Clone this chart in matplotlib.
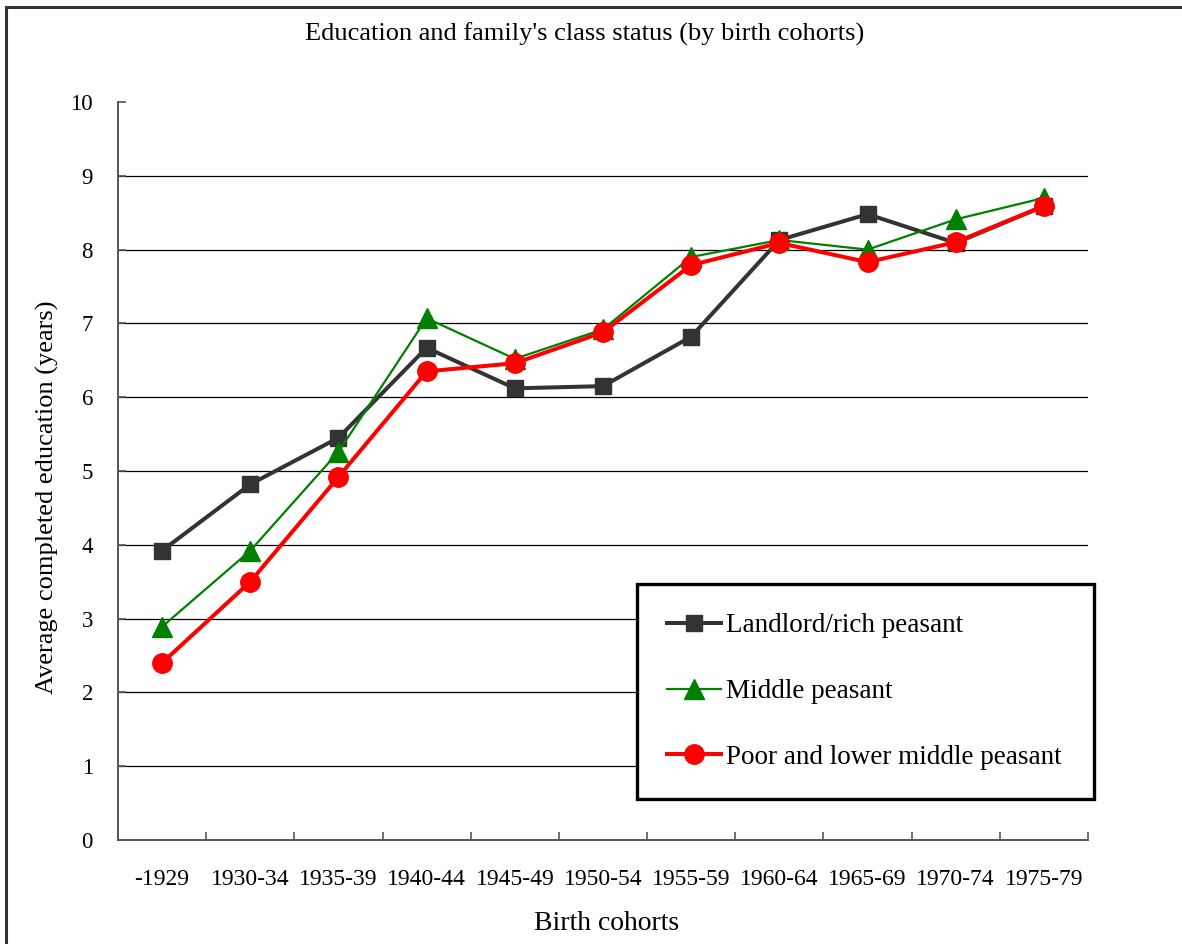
import matplotlib
matplotlib.use("Agg")
import matplotlib.pyplot as plt
from matplotlib.patches import Rectangle
import numpy as np

categories = ["-1929", "1930-34", "1935-39", "1940-44", "1945-49", "1950-54",
              "1955-59", "1960-64", "1965-69", "1970-74", "1975-79"]
landlord = [3.92, 4.82, 5.45, 6.67, 6.12, 6.15, 6.82, 8.13, 8.48, 8.09, 8.59]
middle = [2.89, 3.92, 5.26, 7.07, 6.52, 6.92, 7.90, 8.13, 8.00, 8.41, 8.70]
poor = [2.40, 3.50, 4.92, 6.35, 6.46, 6.88, 7.79, 8.09, 7.83, 8.10, 8.59]
series_names = ["Landlord/rich peasant", "Middle peasant", "Poor and lower middle peasant"]
y_ticks = list(range(0, 11))

plt.rcParams['font.family'] = ['Liberation Serif', 'DejaVu Serif']

fig = plt.figure(figsize=(11.82, 9.44), dpi=100)
ax = fig.add_axes([118/1182, 1-840/944, (1088-118)/1182, (840-102)/944])

x = np.arange(len(categories))
ax.plot(x, landlord, color='#333333', lw=2.9, marker='s', ms=12, label=series_names[0], zorder=3)
ax.plot(x, middle, color='#008000', lw=1.6, marker='^', ms=14, label=series_names[1], zorder=4)
ax.plot(x, poor, color='#ff0000', lw=2.9, marker='o', ms=14, label=series_names[2], zorder=5)

ax.set_xlim(-0.5, len(categories) - 0.5)
ax.set_ylim(0, 10)
ax.set_yticks(y_ticks)
ax.set_yticklabels([str(v) for v in y_ticks], fontsize=16.5)
for v in y_ticks[1:-1]:
    ax.axhline(v, color='black', lw=0.9, zorder=1)

ax.set_xticks(x)
ax.set_xticklabels(categories, fontsize=17)
ax.set_xticks(np.arange(-0.5, len(categories)), minor=True)
ax.tick_params(axis='x', which='major', length=0, pad=21)
ax.tick_params(axis='x', which='minor', direction='in', length=6, color='#555555', width=1.2)
ax.tick_params(axis='y', direction='in', length=6, color='#555555', width=1.2, pad=18)

for s in ['top', 'right']:
    ax.spines[s].set_visible(False)
for s in ['left', 'bottom']:
    ax.spines[s].set_color('#555555')
    ax.spines[s].set_linewidth(1.4)

fig.text(585/1182, 1-34/944, "Education and family's class status (by birth cohorts)",
         ha='center', va='center', fontsize=19)
fig.text(607/1182, 1-924/944, "Birth cohorts", ha='center', va='center', fontsize=20)
fig.text(47/1182, 1-497/944, "Average completed education (years)", ha='center', va='center',
         rotation=90, fontsize=19)

leg = fig.legend(loc='center', bbox_to_anchor=(637/1182, 1-800/944, 457/1182, 217/944),
                 bbox_transform=fig.transFigure, fontsize=19.5, frameon=True, fancybox=False,
                 edgecolor='black', handlelength=2.0, handletextpad=0.2, labelspacing=1.5,
                 borderaxespad=0, mode='expand', borderpad=1.1)
leg.get_frame().set_linewidth(2.4)
leg.get_frame().set_alpha(None)
leg.get_frame().set_facecolor('white')

fig.patches.append(Rectangle((6/1182, -0.1), 1.2, 1 - 7/944 + 0.1, transform=fig.transFigure,
                             fill=False, edgecolor='#333333', lw=2.2, figure=fig))

fig.savefig("out.png", dpi=100)
